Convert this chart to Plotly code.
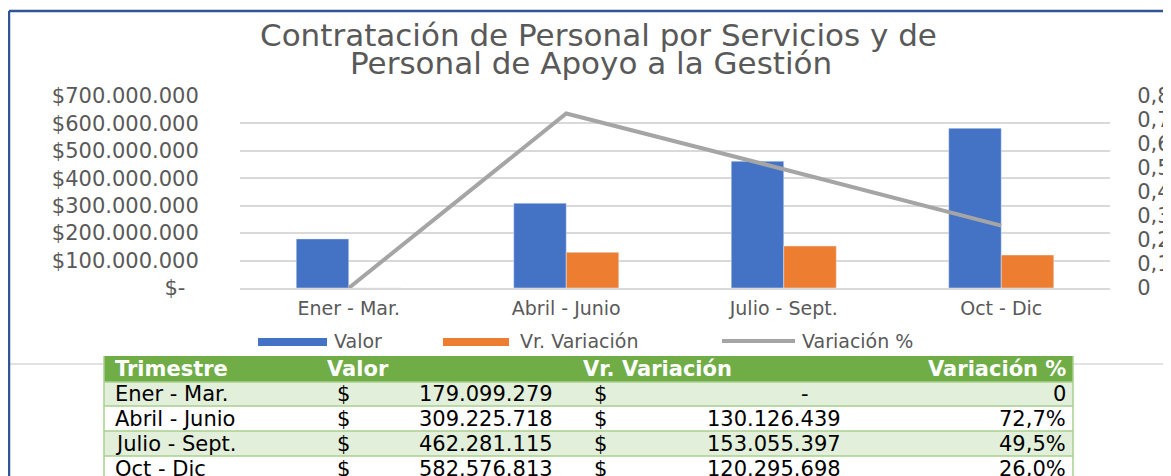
import plotly.graph_objects as go

# page is shown with the browser's default 8px body margin -> figure is offset by 8px
OFF = 8
W, H = 1171 - OFF, 476 - OFF

# ---------------- data ----------------
trimestres = ["Ener - Mar.", "Abril - Junio", "Julio - Sept.", "Oct - Dic"]
valor = [179099279, 309225718, 462281115, 582576813]
vr_variacion = [0, 130126439, 153055397, 120295698]
variacion_pct = [0, 0.727, 0.495, 0.260]
pct_labels = ["0", "72,7%", "49,5%", "26,0%"]

y1_tickvals = [0, 100e6, 200e6, 300e6, 400e6, 500e6, 600e6, 700e6]
y1_ticktext = ["$-\u00a0\u00a0", "$100.000.000", "$200.000.000", "$300.000.000",
               "$400.000.000", "$500.000.000", "$600.000.000", "$700.000.000"]
y2_tickvals = [0, 0.1, 0.2, 0.3, 0.4, 0.5, 0.6, 0.7, 0.8]
y2_ticktext = ["0", "0,1", "0,2", "0,3", "0,4", "0,5", "0,6", "0,7", "0,8"]

title_lines = ["Contratación de Personal por Servicios y de", "Personal de Apoyo a la Gestión"]
series_names = ["Valor", "Vr. Variación", "Variación %"]
table_headers = ["Trimestre", "Valor", "Vr. Variación", "Variación %"]

# ---------------- styles ----------------
BLUE, ORANGE, GRAY = "#4472C4", "#ED7D31", "#A5A5A5"
TXT = "#595959"
GRID = "#D9D9D9"
GREEN_H, GREEN_L, GREEN_LINE = "#70AD47", "#E2EFDA", "#A9D08E"
FONT = "DejaVu Sans"


def px(x):
    return (x - OFF) / W


def py(y):
    return 1 - (y - OFF) / H


def fmt(v):
    return f"{v:,}".replace(",", ".")


fig = go.Figure()
fig.add_trace(go.Bar(name=series_names[0], x=trimestres, y=valor, marker_color=BLUE,
                     showlegend=False))
fig.add_trace(go.Bar(name=series_names[1], x=trimestres, y=vr_variacion, marker_color=ORANGE,
                     showlegend=False))
fig.add_trace(go.Scatter(name=series_names[2], x=trimestres, y=variacion_pct, mode="lines",
                         line=dict(color=GRAY, width=4), yaxis="y2", showlegend=False))

shapes = []
annotations = []

# outer blue frame (top and left edges visible)
shapes.append(dict(type="line", xref="paper", yref="paper", x0=px(9), x1=px(1171),
                   y0=py(11), y1=py(11), line=dict(color="#2F5597", width=2.5)))
shapes.append(dict(type="line", xref="paper", yref="paper", x0=px(9), x1=px(9),
                   y0=py(11), y1=py(476), line=dict(color="#2F5597", width=2.5)))
# faint line behind table
shapes.append(dict(type="line", xref="paper", yref="paper", x0=px(10), x1=px(1171),
                   y0=py(364), y1=py(364), line=dict(color=GRID, width=1.5), layer="below"))

# title
for i, t in enumerate(title_lines):
    annotations.append(dict(text=t, xref="paper", yref="paper", x=px([599, 591][i]),
                            y=py([35, 63][i]), xanchor="center", yanchor="middle",
                            showarrow=False, font=dict(family=FONT, size=31, color=TXT)))

# legend (manual, wide swatches)
leg_sw = [(258, 327), (443, 509), (722, 795)]
leg_tx = [332, 518, 800]
leg_col = [BLUE, ORANGE, GRAY]
for i, name in enumerate(series_names):
    x0, x1 = leg_sw[i]
    if i < 2:
        shapes.append(dict(type="rect", xref="paper", yref="paper", x0=px(x0), x1=px(x1),
                           y0=py(346), y1=py(338), fillcolor=leg_col[i], line=dict(width=0)))
    else:
        shapes.append(dict(type="line", xref="paper", yref="paper", x0=px(x0), x1=px(x1),
                           y0=py(341), y1=py(341), line=dict(color=leg_col[i], width=4)))
    annotations.append(dict(text=name, xref="paper", yref="paper", x=px(leg_tx[i]), y=py(341),
                            xanchor="left", yanchor="middle", showarrow=False,
                            font=dict(family=FONT, size=19, color=TXT)))

# table
TL, TR = 104, 1073
row_edges = [382, 406, 431, 456, 481]
shapes.append(dict(type="rect", xref="paper", yref="paper", x0=px(TL), x1=px(TR),
                   y0=py(382), y1=py(356), fillcolor=GREEN_H, line=dict(width=0)))
for r in range(len(trimestres)):
    shapes.append(dict(type="rect", xref="paper", yref="paper", x0=px(TL), x1=px(TR),
                       y0=py(min(row_edges[r + 1], 476)), y1=py(row_edges[r]),
                       fillcolor=GREEN_L if r % 2 == 0 else "white", line=dict(width=0)))
for e in row_edges[:-1]:
    shapes.append(dict(type="line", xref="paper", yref="paper", x0=px(TL), x1=px(TR),
                       y0=py(e), y1=py(e), line=dict(color=GREEN_LINE, width=1.5)))
for xe in (TL, TR):
    shapes.append(dict(type="line", xref="paper", yref="paper", x0=px(xe), x1=px(xe),
                       y0=py(356), y1=py(476), line=dict(color=GREEN_LINE, width=1.5)))

hdr_x = [113, 325, 581, 1068]
hdr_anchor = ["left", "left", "left", "right"]
for i, h in enumerate(table_headers):
    annotations.append(dict(text=f"<b>{h}</b>", xref="paper", yref="paper", x=px(hdr_x[i]),
                            y=py(369), xanchor=hdr_anchor[i], yanchor="middle", showarrow=False,
                            font=dict(family=FONT, size=21, color="white")))

for r in range(len(trimestres)):
    yc = (row_edges[r] + row_edges[r + 1]) / 2
    cells = [
        (trimestres[r], 113, "left"),
        ("$", 335, "left"),
        (fmt(valor[r]), 555, "right"),
        ("$", 592, "left"),
        (fmt(vr_variacion[r]) if vr_variacion[r] else "-",
         843 if vr_variacion[r] else 805, "right" if vr_variacion[r] else "center"),
        (pct_labels[r], 1068, "right"),
    ]
    for text, x, anc in cells:
        annotations.append(dict(text=text, xref="paper", yref="paper", x=px(x), y=py(yc),
                                xanchor=anc, yanchor="middle", showarrow=False,
                                font=dict(family=FONT, size=21, color="black")))

fig.update_layout(
    width=W, height=H,
    margin=dict(l=0, r=0, t=0, b=0, autoexpand=False),
    paper_bgcolor="white", plot_bgcolor="white",
    barmode="group", bargap=0.517, bargroupgap=0,
    showlegend=False,
    xaxis=dict(domain=[px(240), px(1110)], showgrid=False, showline=True, automargin=False,
               linecolor=GRID, linewidth=1.5, ticks="outside", ticklen=2,
               tickcolor="rgba(0,0,0,0)", tickfont=dict(family=FONT, size=19, color=TXT)),
    yaxis=dict(domain=[py(288), py(96)], range=[0, 700e6], tickvals=y1_tickvals,
               ticktext=y1_ticktext, showgrid=True, gridcolor=GRID, gridwidth=1.5,
               automargin=False, zeroline=False, ticks="outside", ticklen=36,
               tickcolor="rgba(0,0,0,0)", tickfont=dict(family=FONT, size=21, color=TXT)),
    yaxis2=dict(overlaying="y", side="right", anchor="x", range=[0, 0.8], automargin=False,
                tickvals=y2_tickvals, ticktext=y2_ticktext, showgrid=False, zeroline=False,
                ticks="outside", ticklen=22, tickcolor="rgba(0,0,0,0)",
                tickfont=dict(family=FONT, size=21, color=TXT)),
    shapes=shapes,
    annotations=annotations,
)

fig.write_html("out.html")
